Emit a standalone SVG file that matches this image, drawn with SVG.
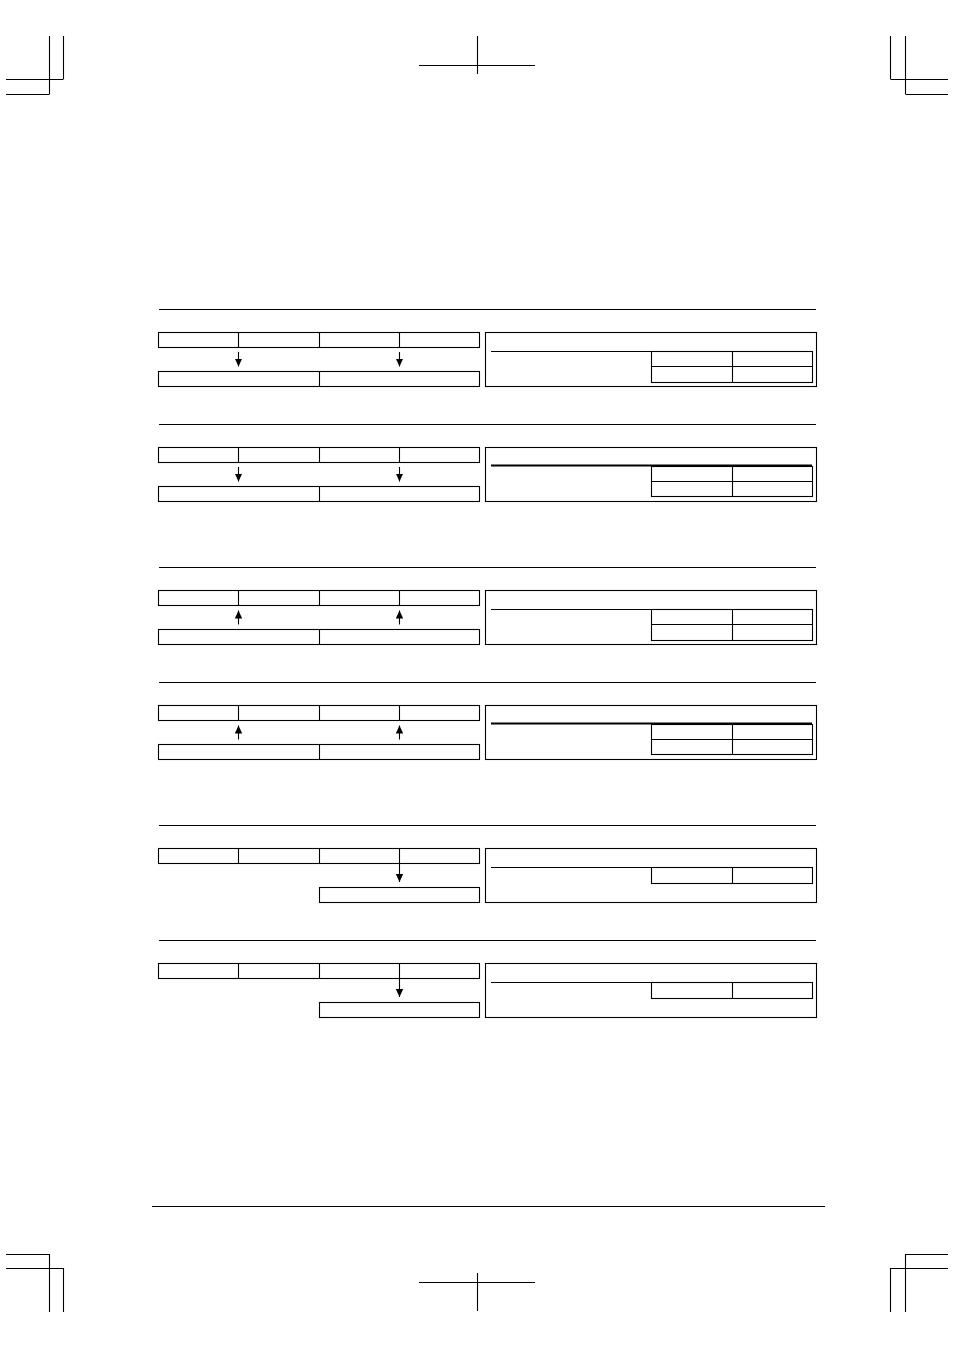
<svg xmlns="http://www.w3.org/2000/svg" width="954" height="1351" viewBox="0 0 954 1351">
<style>
.ln{stroke:#000;stroke-width:1.1;fill:none}
.bx{stroke:#000;stroke-width:1.1;fill:#fff}
.thk{stroke:#000;stroke-width:2;fill:none}
.ar{stroke:#000;stroke-width:1.1;fill:none;marker-end:url(#ah)}
</style>
<defs>
<marker id="ah" markerUnits="userSpaceOnUse" markerWidth="9" markerHeight="9" viewBox="0 0 9 9" refX="8" refY="4.5" orient="auto">
<path d="M0,0.8 L8,4.5 L0,8.2 Z" fill="#000"/>
</marker>
</defs>
<g id="crop-marks" class="ln">
<path d="M49.5,36 V94 M63.5,36 V79 M6,79.5 H63.5 M6,94.5 H49.5"/>
<path d="M477.5,36 V74 M419,65.5 H535"/>
<path d="M890.5,36 V79 M905.5,36 V94 M890.5,79.5 H948 M905.5,94.5 H948"/>
<path d="M49.5,1254 V1312 M63.5,1268 V1312 M6,1254.5 H49.5 M6,1268.5 H63.5"/>
<path d="M477.5,1273 V1311 M419,1282.5 H535"/>
<path d="M905.5,1254 V1312 M890.5,1268 V1312 M905.5,1254.5 H948 M890.5,1268.5 H948"/>
<path d="M152,1206.5 H825"/>
</g>
<g id="section1">
<path class="ln" d="M159,309.5 H816"/>
<g id="s1-src"><rect class="bx" x="158.5" y="332.5" width="321" height="15"/><path class="ln" d="M238.5,332.5 V347.5 M319.5,332.5 V347.5 M399.5,332.5 V347.5"/></g>
<g id="s1-dst"><rect class="bx" x="158.5" y="371.5" width="321" height="15"/><path class="ln" d="M319.5,371.5 V386.5"/></g>
<g id="s1-table"><rect class="bx" x="485.5" y="332.5" width="331" height="54"/><path class="ln" d="M491,351.5 H812"/><rect class="bx" x="651.5" y="351.5" width="161" height="31"/><path class="ln" d="M651.5,366.5 H812.5 M732.5,351.5 V382.5"/></g>
</g>
<g id="section2" transform="translate(0,115)">
<path class="ln" d="M159,309.5 H816"/>
<g id="s2-src"><rect class="bx" x="158.5" y="332.5" width="321" height="15"/><path class="ln" d="M238.5,332.5 V347.5 M319.5,332.5 V347.5 M399.5,332.5 V347.5"/></g>
<g id="s2-dst"><rect class="bx" x="158.5" y="371.5" width="321" height="15"/><path class="ln" d="M319.5,371.5 V386.5"/></g>
<g id="s2-table"><rect class="bx" x="485.5" y="332.5" width="331" height="54"/><rect class="bx" x="651.5" y="351.5" width="161" height="30"/><path class="ln" d="M651.5,366.5 H812.5 M732.5,351.5 V381.5"/><path class="thk" d="M491,350.5 H812"/></g>
</g>
<g id="section3" transform="translate(0,258)">
<path class="ln" d="M159,309.5 H816"/>
<g id="s3-dst"><rect class="bx" x="158.5" y="332.5" width="321" height="15"/><path class="ln" d="M238.5,332.5 V347.5 M319.5,332.5 V347.5 M399.5,332.5 V347.5"/></g>
<g id="s3-src"><rect class="bx" x="158.5" y="371.5" width="321" height="15"/><path class="ln" d="M319.5,371.5 V386.5"/></g>
<g id="s3-table"><rect class="bx" x="485.5" y="332.5" width="331" height="54"/><path class="ln" d="M491,351.5 H812"/><rect class="bx" x="651.5" y="351.5" width="161" height="31"/><path class="ln" d="M651.5,366.5 H812.5 M732.5,351.5 V382.5"/></g>
</g>
<g id="section4" transform="translate(0,373)">
<path class="ln" d="M159,309.5 H816"/>
<g id="s4-dst"><rect class="bx" x="158.5" y="332.5" width="321" height="15"/><path class="ln" d="M238.5,332.5 V347.5 M319.5,332.5 V347.5 M399.5,332.5 V347.5"/></g>
<g id="s4-src"><rect class="bx" x="158.5" y="371.5" width="321" height="15"/><path class="ln" d="M319.5,371.5 V386.5"/></g>
<g id="s4-table"><rect class="bx" x="485.5" y="332.5" width="331" height="54"/><rect class="bx" x="651.5" y="351.5" width="161" height="30"/><path class="ln" d="M651.5,366.5 H812.5 M732.5,351.5 V381.5"/><path class="thk" d="M491,350.5 H812"/></g>
</g>
<g id="section5" transform="translate(0,516)">
<path class="ln" d="M159,309.5 H816"/>
<g id="s5-src"><rect class="bx" x="158.5" y="332.5" width="321" height="15"/><path class="ln" d="M238.5,332.5 V347.5 M319.5,332.5 V347.5 M399.5,332.5 V347.5"/></g>
<g id="s5-dst"><rect class="bx" x="319.5" y="371.5" width="160" height="15"/></g>
<g id="s5-table"><rect class="bx" x="485.5" y="332.5" width="331" height="54"/><path class="ln" d="M491,351.5 H812"/><rect class="bx" x="651.5" y="351.5" width="161" height="16"/><path class="ln" d="M732.5,351.5 V367.5"/></g>
</g>
<g id="section6" transform="translate(0,631)">
<path class="ln" d="M159,309.5 H816"/>
<g id="s6-src"><rect class="bx" x="158.5" y="332.5" width="321" height="15"/><path class="ln" d="M238.5,332.5 V347.5 M319.5,332.5 V347.5 M399.5,332.5 V347.5"/></g>
<g id="s6-dst"><rect class="bx" x="319.5" y="371.5" width="160" height="15"/></g>
<g id="s6-table"><rect class="bx" x="485.5" y="332.5" width="331" height="54"/><path class="ln" d="M491,351.5 H812"/><rect class="bx" x="651.5" y="351.5" width="161" height="16"/><path class="ln" d="M732.5,351.5 V367.5"/></g>
</g>
<g id="connectors">
<path class="ar" d="M238.5,352 V366.5"/>
<path class="ar" d="M399.5,352 V366.5"/>
<path class="ar" d="M238.5,467 V481.5"/>
<path class="ar" d="M399.5,467 V481.5"/>
<path class="ar" d="M238.5,624.5 V610.5"/>
<path class="ar" d="M399.5,624.5 V610.5"/>
<path class="ar" d="M238.5,739.5 V725.5"/>
<path class="ar" d="M399.5,739.5 V725.5"/>
<path class="ar" d="M399.5,864 V882"/>
<path class="ar" d="M399.5,979 V997"/>
</g>
</svg>
